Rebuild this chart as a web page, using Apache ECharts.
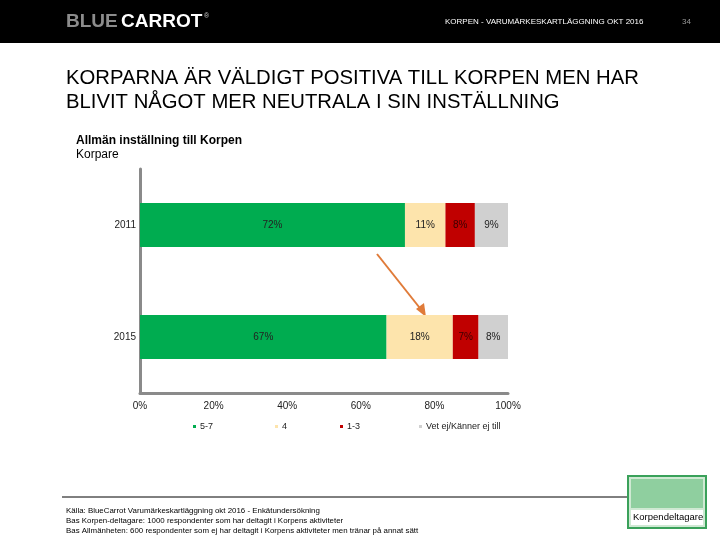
<!DOCTYPE html>
<html><head><meta charset="utf-8">
<script src="https://cdn.jsdelivr.net/npm/echarts@6/dist/echarts.min.js"></script>
<style>html,body{margin:0;padding:0;background:#fff}#c{width:720px;height:540px}</style>
</head><body><div id="c"></div>
<script>
const categories = ['2011', '2015'];
const seriesNames = ['5-7', '4', '1-3', 'Vet ej/Känner ej till'];
const v57 = [72, 67];
const v4 = [11, 18];
const v13 = [8, 7];
const vVet = [9, 8];
const xTicks = [0, 20, 40, 60, 80, 100];
const colors = ['#00AC50', '#FDE4AC', '#C00000', '#D0D0D0'];
const values = [v57, v4, v13, vVet];

const chart = echarts.init(document.getElementById('c'));
const font = 'Liberation Sans, Arial, sans-serif';
const legendX = [188, 270, 335, 414];

const option = {
  animation: false,
  backgroundColor: '#fff',
  grid: { left: 140, right: 212, top: 169, bottom: 147 },
  xAxis: {
    type: 'value', min: xTicks[0], max: xTicks[xTicks.length - 1], interval: 20,
    axisLine: { show: true, lineStyle: { color: '#8a8a8a', width: 3 } },
    axisTick: { show: false }, splitLine: { show: false },
    axisLabel: { formatter: '{value}%', color: '#222', fontSize: 10, fontFamily: font, margin: 8 }
  },
  yAxis: {
    type: 'category', data: categories, inverse: true,
    axisLine: { show: true, lineStyle: { color: '#8a8a8a', width: 3 } },
    axisTick: { show: false },
    axisLabel: { color: '#222', fontSize: 10, fontFamily: font, margin: 4 }
  },
  legend: seriesNames.map((n, i) => ({
    data: [n], left: legendX[i], top: 417, itemWidth: 3, itemHeight: 3, icon: 'rect',
    itemGap: 2, textStyle: { fontSize: 9, color: '#222', fontFamily: font, padding: [0, 0, 0, -1] },
    selectedMode: false
  })),
  series: seriesNames.map((n, i) => ({
    name: n, type: 'bar', stack: 'a', barWidth: 44,
    itemStyle: { color: colors[i] },
    label: { show: true, position: 'inside', formatter: '{c}%', fontSize: 10, color: i === 2 ? '#3a0000' : '#222', fontFamily: font },
    data: values[i]
  })),
  graphic: [
    { type: 'rect', shape: { x: 0, y: 0, width: 720, height: 43 }, style: { fill: '#000' } },
    { type: 'text', left: 66, top: 12, style: { text: 'BLUE', fill: '#8c8c8c', font: 'bold 19px ' + font } },
    { type: 'text', left: 121, top: 12, style: { text: 'CARROT', fill: '#fff', font: 'bold 19px ' + font } },
    { type: 'text', left: 204, top: 13, style: { text: '®', fill: '#ccc', font: '7px ' + font } },
    { type: 'text', left: 445, top: 18, style: { text: 'KORPEN - VARUMÄRKESKARTLÄGGNING OKT 2016', fill: '#fff', font: '8px ' + font } },
    { type: 'text', left: 682, top: 18, style: { text: '34', fill: '#999', font: '8px ' + font } },
    { type: 'text', left: 66, top: 66, style: { text: 'KORPARNA ÄR VÄLDIGT POSITIVA TILL KORPEN MEN HAR\nBLIVIT NÅGOT MER NEUTRALA I SIN INSTÄLLNING', fill: '#000', font: '20.3px ' + font, lineHeight: 24 } },
    { type: 'text', left: 76, top: 135, style: { text: 'Allmän inställning till Korpen', fill: '#000', font: 'bold 12px ' + font } },
    { type: 'text', left: 76, top: 149, style: { text: 'Korpare', fill: '#000', font: '12px ' + font } },
    { type: 'line', shape: { x1: 377, y1: 254, x2: 423, y2: 312 }, style: { stroke: '#E07B39', lineWidth: 2 } },
    { type: 'polygon', shape: { points: [[426, 317], [416, 309], [424, 303]] }, style: { fill: '#E07B39' } },
    { type: 'line', shape: { x1: 62, y1: 497, x2: 630, y2: 497 }, style: { stroke: '#000', lineWidth: 1 } },
    { type: 'text', left: 66, top: 506, style: { text: 'Källa: BlueCarrot Varumärkeskartläggning okt 2016 - Enkätundersökning\nBas Korpen-deltagare: 1000 respondenter som har deltagit i Korpens aktiviteter\nBas Allmänheten: 600 respondenter som ej har deltagit i Korpens aktiviteter men tränar på annat sätt', fill: '#000', font: '7.9px ' + font, lineHeight: 10 } },
    { type: 'rect', shape: { x: 628, y: 476, width: 78, height: 52 }, style: { fill: '#cfe9d3', stroke: '#3aa15a', lineWidth: 2 } },
    { type: 'rect', shape: { x: 631, y: 479, width: 72, height: 29 }, style: { fill: '#8fcf9f' } },
    { type: 'rect', shape: { x: 631, y: 510, width: 72, height: 15 }, style: { fill: '#fff' } },
    { type: 'text', left: 633, top: 512, style: { text: 'Korpendeltagare', fill: '#000', font: '9.5px ' + font } }
  ]
};
chart.setOption(option);
</script></body></html>
